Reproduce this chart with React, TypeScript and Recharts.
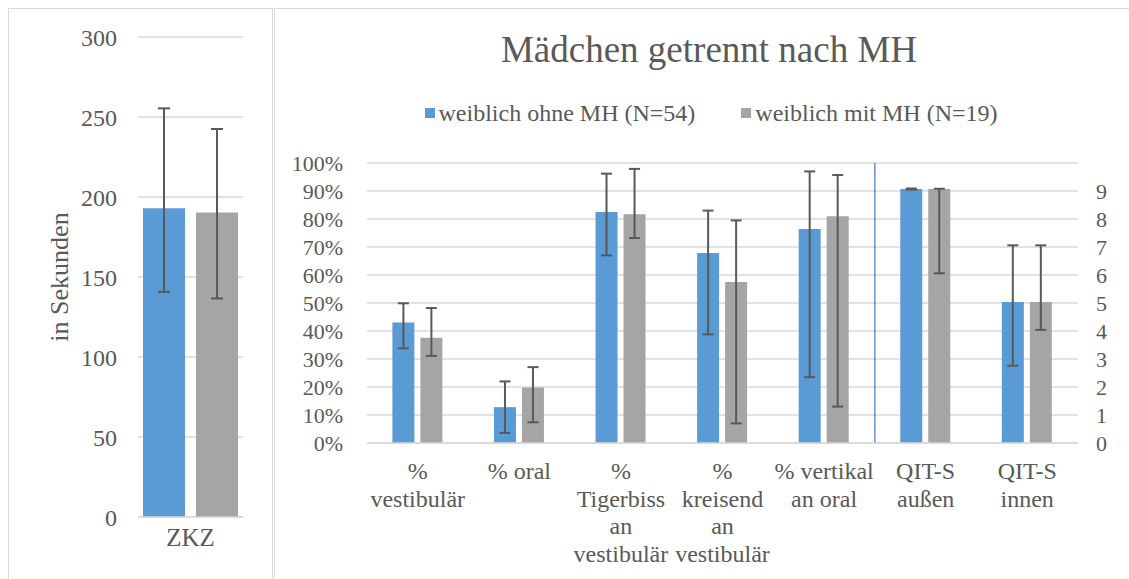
import React from 'react';
import {
  BarChart,
  Bar,
  XAxis,
  YAxis,
  CartesianGrid,
  ErrorBar,
  Legend,
  ReferenceLine,
} from 'recharts';

const FONT = "'Liberation Serif', 'Times New Roman', Times, 'DejaVu Serif', serif";
const TEXT = '#595959';
const GRID = '#D9D9D9';
const BLUE = '#5B9BD5';
const GRAY = '#A5A5A5';
const ERR = '#595959';
const DIVIDER = '#4472C4';

const TITLE = 'Mädchen getrennt nach MH';
const SERIES_NAMES = ['weiblich ohne MH (N=54)', 'weiblich mit MH (N=19)'];
const SERIES_COLORS = [BLUE, GRAY];

// ---- left panel (ZKZ, seconds)
const ZKZ_CATEGORIES = ['ZKZ'];
const ZKZ_OHNE = [193];
const ZKZ_OHNE_LOW = [140.7];
const ZKZ_OHNE_HIGH = [255.4];
const ZKZ_MIT = [190.3];
const ZKZ_MIT_LOW = [136.6];
const ZKZ_MIT_HIGH = [242.5];
const ZKZ_TICKS = [0, 50, 100, 150, 200, 250, 300];
const ZKZ_AXIS_TITLE = 'in Sekunden';

// ---- right panel, percent categories (primary axis)
const PCT_CATEGORIES = [
  '%\nvestibulär',
  '% oral',
  '%\nTigerbiss\nan\nvestibulär',
  '%\nkreisend\nan\nvestibulär',
  '% vertikal\nan oral',
];
const OHNE_PCT = [0.43, 0.128, 0.825, 0.679, 0.764];
const OHNE_PCT_LOW = [0.338, 0.036, 0.67, 0.388, 0.235];
const OHNE_PCT_HIGH = [0.499, 0.22, 0.962, 0.83, 0.97];
const MIT_PCT = [0.376, 0.198, 0.817, 0.575, 0.81];
const MIT_PCT_LOW = [0.311, 0.074, 0.732, 0.07, 0.13];
const MIT_PCT_HIGH = [0.482, 0.271, 0.979, 0.795, 0.957];
const PCT_TICKS = [0, 0.1, 0.2, 0.3, 0.4, 0.5, 0.6, 0.7, 0.8, 0.9, 1];

// ---- right panel, QIT-S categories (secondary axis)
const QIT_CATEGORIES = ['QIT-S\naußen', 'QIT-S\ninnen'];
const OHNE_QIT = [9.07, 5.04];
const OHNE_QIT_LOW = [9.05, 2.76];
const OHNE_QIT_HIGH = [9.09, 7.06];
const MIT_QIT = [9.07, 5.04];
const MIT_QIT_LOW = [6.06, 4.04];
const MIT_QIT_HIGH = [9.08, 7.06];
const QIT_TICKS = [0, 1, 2, 3, 4, 5, 6, 7, 8, 9];
const QIT_DOMAIN_MAX = 10;

const err = (v: number, lo: number, hi: number) => [v - lo, hi - v];

const zkzData = ZKZ_CATEGORIES.map((cat, i) => ({
  cat,
  ohne: ZKZ_OHNE[i],
  ohneErr: err(ZKZ_OHNE[i], ZKZ_OHNE_LOW[i], ZKZ_OHNE_HIGH[i]),
  mit: ZKZ_MIT[i],
  mitErr: err(ZKZ_MIT[i], ZKZ_MIT_LOW[i], ZKZ_MIT_HIGH[i]),
}));

const mainData = [
  ...PCT_CATEGORIES.map((cat, i) => ({
    cat,
    ohnePct: OHNE_PCT[i],
    ohnePctErr: err(OHNE_PCT[i], OHNE_PCT_LOW[i], OHNE_PCT_HIGH[i]),
    mitPct: MIT_PCT[i],
    mitPctErr: err(MIT_PCT[i], MIT_PCT_LOW[i], MIT_PCT_HIGH[i]),
    ohneQit: null,
    ohneQitErr: null,
    mitQit: null,
    mitQitErr: null,
  })),
  ...QIT_CATEGORIES.map((cat, i) => ({
    cat,
    ohnePct: null,
    ohnePctErr: null,
    mitPct: null,
    mitPctErr: null,
    ohneQit: OHNE_QIT[i],
    ohneQitErr: err(OHNE_QIT[i], OHNE_QIT_LOW[i], OHNE_QIT_HIGH[i]),
    mitQit: MIT_QIT[i],
    mitQitErr: err(MIT_QIT[i], MIT_QIT_LOW[i], MIT_QIT_HIGH[i]),
  })),
];

const MultiLineTick = (props: any) => {
  const { x, y, payload, firstOffset, lineHeight, fontSize } = props;
  const lines = String(payload.value).split('\n');
  return (
    <text
      x={x}
      y={y}
      textAnchor="middle"
      fill={TEXT}
      fontSize={fontSize}
      fontFamily={FONT}
    >
      {lines.map((l: string, i: number) => (
        <tspan key={i} x={x} y={y + firstOffset + i * lineHeight}>
          {l}
        </tspan>
      ))}
    </text>
  );
};

const LegendContent = () => (
  <div
    style={{
      display: 'flex',
      justifyContent: 'center',
      alignItems: 'center',
      paddingLeft: 18,
      fontFamily: FONT,
      fontSize: 24,
      lineHeight: '28px',
      color: TEXT,
      whiteSpace: 'nowrap',
    }}
  >
    {SERIES_NAMES.map((name, i) => (
      <div
        key={name}
        style={{ display: 'flex', alignItems: 'center', marginRight: i === 0 ? 46 : 0 }}
      >
        <span
          style={{
            display: 'inline-block',
            width: 10,
            height: 10,
            background: SERIES_COLORS[i],
            marginRight: 4,
          }}
        />
        <span>{name}</span>
      </div>
    ))}
  </div>
);

export default function App() {
  return (
    <div
      style={{
        position: 'absolute',
        left: 0,
        top: 0,
        width: 1129,
        height: 579,
        background: '#ffffff',
        overflow: 'hidden',
        fontFamily: FONT,
      }}
    >
      {/* panel borders */}
      <div
        style={{
          position: 'absolute',
          left: 8,
          top: 8,
          width: 265,
          height: 620,
          boxSizing: 'border-box',
          border: `1.5px solid ${GRID}`,
        }}
      />
      <div
        style={{
          position: 'absolute',
          left: 274,
          top: 8,
          width: 900,
          height: 620,
          boxSizing: 'border-box',
          border: `1.5px solid ${GRID}`,
        }}
      />

      {/* left chart */}
      <div style={{ position: 'absolute', left: 9, top: 8 }}>
        <BarChart
          width={263}
          height={571}
          data={zkzData}
          margin={{ top: 29, right: 29, bottom: 0, left: 0 }}
          barSize={42}
          barGap={11}
        >
          <CartesianGrid vertical={false} stroke={GRID} strokeWidth={1.5} />
          <XAxis
            dataKey="cat"
            height={62}
            tickLine={false}
            tickSize={0}
            tickMargin={0}
            axisLine={{ stroke: GRID, strokeWidth: 1.5 }}
            tick={(p: any) => (
              <MultiLineTick {...p} firstOffset={28.5} lineHeight={27.5} fontSize={25} />
            )}
          />
          <YAxis
            width={129}
            domain={[0, 300]}
            ticks={ZKZ_TICKS}
            interval={0}
            axisLine={false}
            tickLine={false}
            tickSize={0}
            tickMargin={21}
            tick={{ fill: TEXT, fontSize: 24, fontFamily: FONT }}
            label={{
              value: ZKZ_AXIS_TITLE,
              angle: -90,
              position: 'insideLeft',
              offset: 50,
              style: { textAnchor: 'middle', fill: TEXT, fontSize: 26, fontFamily: FONT },
            }}
          />
          <Bar dataKey="ohne" name={SERIES_NAMES[0]} fill={BLUE} isAnimationActive={false}>
            <ErrorBar dataKey="ohneErr" width={6} stroke={ERR} strokeWidth={2} isAnimationActive={false} />
          </Bar>
          <Bar dataKey="mit" name={SERIES_NAMES[1]} fill={GRAY} isAnimationActive={false}>
            <ErrorBar dataKey="mitErr" width={6} stroke={ERR} strokeWidth={2} isAnimationActive={false} />
          </Bar>
        </BarChart>
      </div>

      {/* title */}
      <div
        style={{
          position: 'absolute',
          left: 282,
          top: 30,
          width: 854,
          textAlign: 'center',
          fontSize: 37,
          lineHeight: '40px',
          color: TEXT,
          whiteSpace: 'nowrap',
        }}
      >
        {TITLE}
      </div>

      {/* right chart */}
      <div style={{ position: 'absolute', left: 275, top: 9 }}>
        <BarChart
          width={854}
          height={570}
          data={mainData}
          margin={{ top: 154, right: 0, bottom: 0, left: 0 }}
          barCategoryGap="25%"
          barGap={6}
        >
          <CartesianGrid
            vertical={false}
            xAxisId="a"
            yAxisId="left"
            stroke={GRID}
            strokeWidth={1.5}
          />
          <XAxis
            xAxisId="a"
            dataKey="cat"
            height={136}
            interval={0}
            tickLine={false}
            tickSize={0}
            tickMargin={0}
            axisLine={{ stroke: GRID, strokeWidth: 1.5 }}
            tick={(p: any) => (
              <MultiLineTick {...p} firstOffset={36} lineHeight={27.5} fontSize={24} />
            )}
          />
          <XAxis xAxisId="b" dataKey="cat" hide />
          <YAxis
            yAxisId="left"
            width={92}
            domain={[0, 1]}
            ticks={PCT_TICKS}
            interval={0}
            axisLine={false}
            tickLine={false}
            tickSize={0}
            tickMargin={24}
            tickFormatter={(v: number) => `${Math.round(v * 100)}%`}
            tick={{ fill: TEXT, fontSize: 22, fontFamily: FONT }}
          />
          <YAxis
            yAxisId="right"
            orientation="right"
            width={51}
            domain={[0, QIT_DOMAIN_MAX]}
            ticks={QIT_TICKS}
            interval={0}
            axisLine={false}
            tickLine={false}
            tickSize={0}
            tickMargin={18}
            tick={{ fill: TEXT, fontSize: 22, fontFamily: FONT, textAnchor: 'start' }}
          />
          <Legend
            layout="horizontal"
            verticalAlign="middle"
            align="center"
            wrapperStyle={{ top: 90, left: 0, width: 854 }}
            content={() => <LegendContent />}
          />
          <Bar
            xAxisId="a"
            yAxisId="left"
            dataKey="ohnePct"
            name={SERIES_NAMES[0]}
            fill={BLUE}
            isAnimationActive={false}
          >
            <ErrorBar dataKey="ohnePctErr" width={5.5} stroke={ERR} strokeWidth={2} isAnimationActive={false} />
          </Bar>
          <Bar
            xAxisId="a"
            yAxisId="left"
            dataKey="mitPct"
            name={SERIES_NAMES[1]}
            fill={GRAY}
            isAnimationActive={false}
          >
            <ErrorBar dataKey="mitPctErr" width={5.5} stroke={ERR} strokeWidth={2} isAnimationActive={false} />
          </Bar>
          <Bar
            xAxisId="b"
            yAxisId="right"
            dataKey="ohneQit"
            name={SERIES_NAMES[0] + ' QIT'}
            legendType="none"
            fill={BLUE}
            isAnimationActive={false}
          >
            <ErrorBar dataKey="ohneQitErr" width={5.5} stroke={ERR} strokeWidth={2} isAnimationActive={false} />
          </Bar>
          <Bar
            xAxisId="b"
            yAxisId="right"
            dataKey="mitQit"
            name={SERIES_NAMES[1] + ' QIT'}
            legendType="none"
            fill={GRAY}
            isAnimationActive={false}
          >
            <ErrorBar dataKey="mitQitErr" width={5.5} stroke={ERR} strokeWidth={2} isAnimationActive={false} />
          </Bar>
          {/* divider between the percent group and the QIT-S group */}
          <ReferenceLine
            xAxisId="a"
            yAxisId="left"
            x={PCT_CATEGORIES[PCT_CATEGORIES.length - 1]}
            position="end"
            stroke={DIVIDER}
            strokeWidth={1.2}
          />
        </BarChart>
      </div>
    </div>
  );
}
